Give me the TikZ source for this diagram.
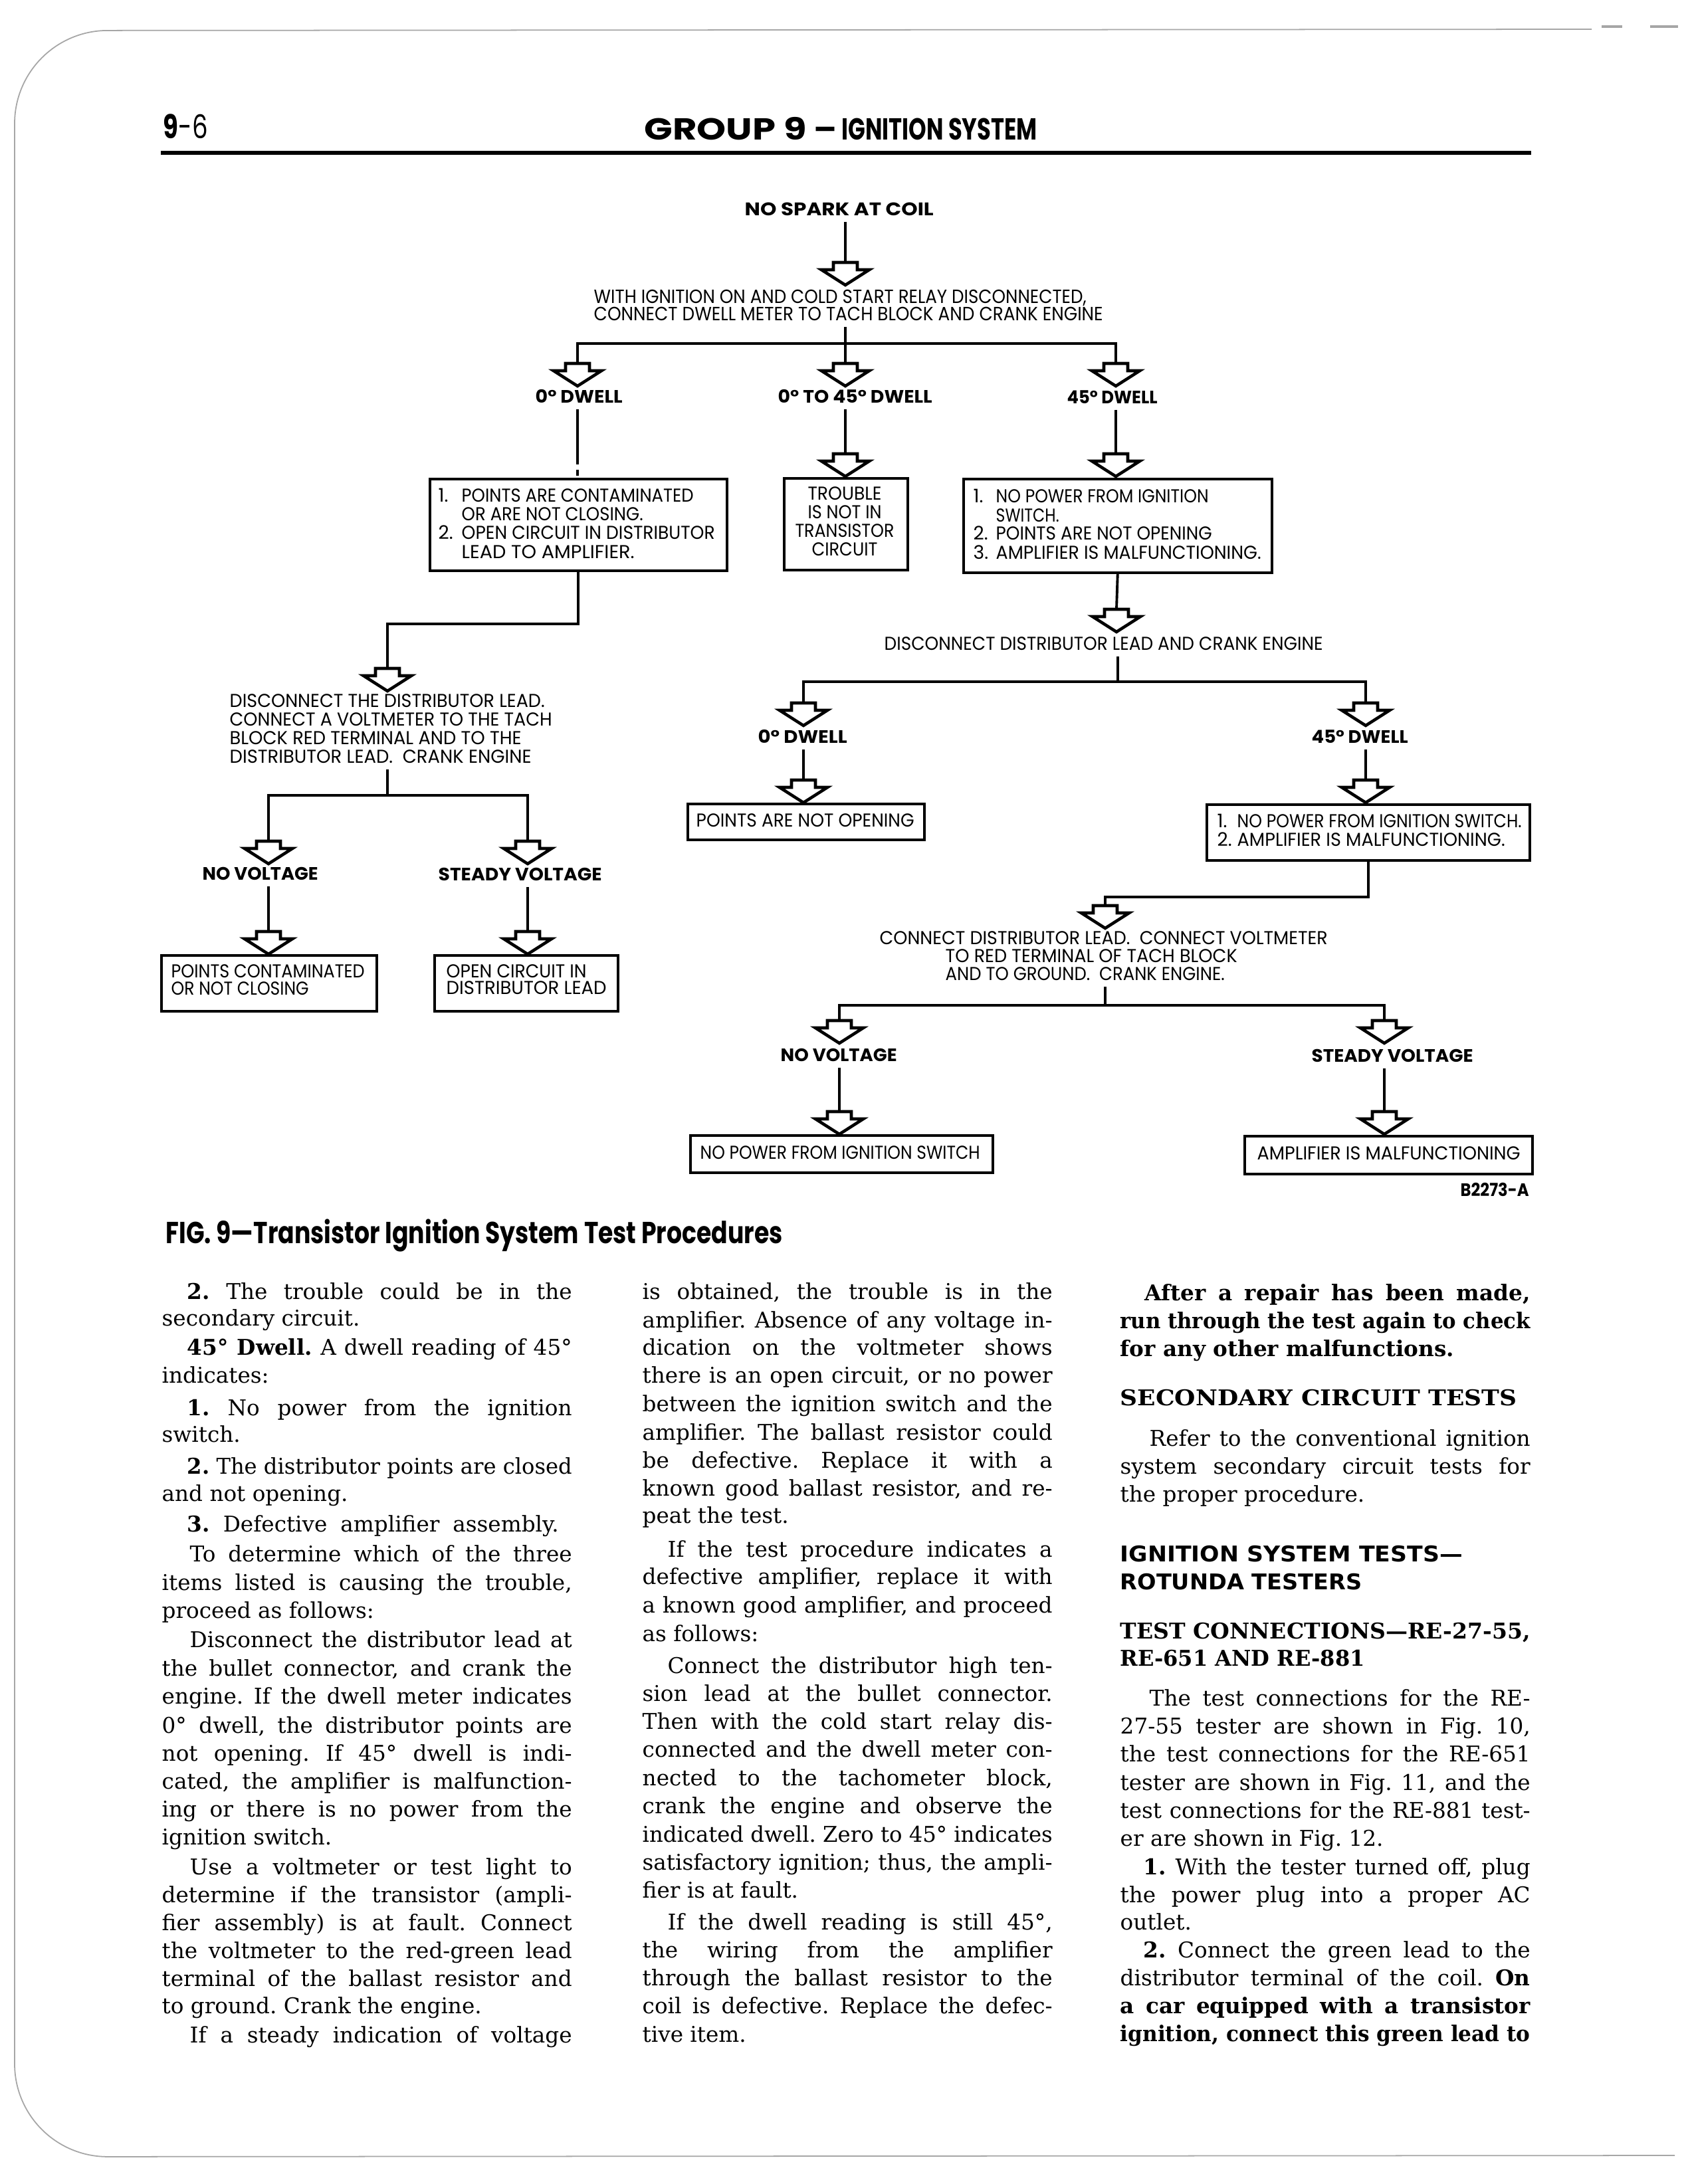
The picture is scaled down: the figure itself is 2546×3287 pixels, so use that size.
\documentclass[tikz,border=0pt]{standalone}
\usepackage{fontspec}
\setmainfont{DejaVu Serif}
\newfontfamily\futfam{Poppins}
\newfontfamily\hsfam{DejaVu Sans}
\usepackage{graphicx}
\newdimen\pxu \pxu=0.1mm
\newcommand\fw[2]{\resizebox{#1\pxu}{\height}{#2}}
\newsavebox\lbox
\newlength\colw \setlength\colw{61.7mm}
\newcommand\jl[2][\colw]{\sbox\lbox{#2}\ifdim\wd\lbox>#1\relax\resizebox{#1}{\height}{\usebox\lbox}\else\makebox[#1][s]{#2}\fi}
\newcommand\bodyf{\frenchspacing\fontsize{9.3pt}{11pt}\selectfont}
\newcommand\futr{\futfam\fontsize{8pt}{9pt}\selectfont}
\newcommand\futt{\futfam\fontsize{8.2pt}{9pt}\selectfont}
\newcommand\futb{\futfam\bfseries\fontsize{7.7pt}{9pt}\selectfont}
\begin{document}
\begin{tikzpicture}[x=0.1mm,y=-0.1mm,
  bodyln/.style={anchor=mid west, inner sep=0pt, font=\bodyf},
  fttxt/.style={anchor=base west, inner xsep=0pt, inner ysep=0.9mm, font=\futr},
  toptxt/.style={fttxt, font=\futt},
  labtxt/.style={fttxt, font=\futb},
  connln/.style={line width=1.1pt, line join=miter},
  boxnd/.style={draw, line width=1pt, inner sep=0pt, anchor=north west},
  arrowst/.style={line width=1.3pt, fill=white, line join=miter},
  pagedge/.style={draw=black!35, line width=0.5pt},
  harrow/.pic={\draw[arrowst] (-18,0) -- (18,0) -- (18,11) -- (36,11) -- (0,34) -- (-36,11) -- (-18,11) -- cycle;}
]
\useasboundingbox (0,0) rectangle (2546,3287);
\fill[white] (0,0) rectangle (2546,3287);
% page edge of the scan
\draw[pagedge, rounded corners=14mm] (2395,44) -- (22,46) -- (22,3246) -- (2520,3244);
\draw[pagedge, line width=1pt] (2410,40) -- (2441,40) (2483,40) -- (2525,40);

% header
\node[anchor=base west, inner sep=0pt, font=\futfam\fontsize{14pt}{16pt}\selectfont] (pg) at (245,208) {\fw{67}{{\bfseries 9}-6}};
\node[anchor=base west, inner sep=0pt, font=\futfam\bfseries\fontsize{13pt}{14pt}\selectfont] (hg1) at (969,210) {\fw{244}{GROUP 9}};
\node[anchor=base west, inner sep=0pt, font=\futfam\bfseries\fontsize{13pt}{14pt}\selectfont] (hg2) at (1224,210) {\fw{35}{–}};
\node[anchor=base west, inner sep=0pt, font=\futfam\bfseries\fontsize{13pt}{14pt}\selectfont] (hg3) at (1266,210) {\fw{294}{IGNITION SYSTEM}};
\draw[line width=1.7pt] (242,230) -- (2304,230);

% ---------- flowchart texts ----------
\node[fttxt, font=\futfam\bfseries\fontsize{7.8pt}{9pt}\selectfont] (n0) at (1120,324) {\fw{284}{NO SPARK AT COIL}};
\node[toptxt] (t1a) at (893,456) {\fw{741}{WITH IGNITION ON AND COLD START RELAY DISCONNECTED,}};
\node[toptxt] (t1b) at (893,482) {\fw{766}{CONNECT DWELL METER TO TACH BLOCK AND CRANK ENGINE}};
\node[labtxt] (l1) at (805,606) {\fw{131}{0° DWELL}};
\node[labtxt] (l2) at (1170,606) {\fw{232}{0° TO 45° DWELL}};
\node[labtxt] (l3) at (1605,607) {\fw{136}{45° DWELL}};

\node[boxnd, minimum width=44.7mm, minimum height=13.8mm] (b1) at (645,719) {};
\node[fttxt] (b1n1) at (659,755) {1.};
\node[fttxt] (b1a) at (694,755) {\fw{349}{POINTS ARE CONTAMINATED}};
\node[fttxt] (b1b) at (694,783) {\fw{273}{OR ARE NOT CLOSING.}};
\node[fttxt] (b1n2) at (659,811) {2.};
\node[fttxt] (b1c) at (694,811) {\fw{381}{OPEN CIRCUIT IN DISTRIBUTOR}};
\node[fttxt] (b1d) at (694,840) {\fw{260}{LEAD TO AMPLIFIER.}};

\node[boxnd, minimum width=18.6mm, minimum height=13.8mm] (b2) at (1178,718) {};
\node[fttxt, anchor=base] (b2a) at (1271,752) {\fw{111}{TROUBLE}};
\node[fttxt, anchor=base] (b2b) at (1271,780) {\fw{111}{IS NOT IN}};
\node[fttxt, anchor=base] (b2c) at (1271,808) {\fw{149}{TRANSISTOR}};
\node[fttxt, anchor=base] (b2d) at (1271,836) {\fw{99}{CIRCUIT}};

\node[boxnd, minimum width=46.4mm, minimum height=14.1mm] (b3) at (1448,719) {};
\node[fttxt] (b3n1) at (1464,756) {1.};
\node[fttxt] (b3a) at (1498,756) {\fw{320}{NO POWER FROM IGNITION}};
\node[fttxt] (b3b) at (1498,785) {\fw{95}{SWITCH.}};
\node[fttxt] (b3n2) at (1464,812) {2.};
\node[fttxt] (b3c) at (1498,812) {\fw{325}{POINTS ARE NOT OPENING}};
\node[fttxt] (b3n3) at (1464,841) {3.};
\node[fttxt] (b3d) at (1498,841) {\fw{399}{AMPLIFIER IS MALFUNCTIONING.}};

% left branch
\node[fttxt] (t2a) at (345,1064) {\fw{474}{DISCONNECT THE DISTRIBUTOR LEAD.}};
\node[fttxt] (t2b) at (345,1092) {\fw{485}{CONNECT A VOLTMETER TO THE TACH}};
\node[fttxt] (t2c) at (345,1120) {\fw{439}{BLOCK RED TERMINAL AND TO THE}};
\node[fttxt] (t2d) at (345,1148) {\fw{454}{DISTRIBUTOR LEAD.\ \ CRANK ENGINE}};
\node[labtxt] (l4) at (304,1324) {\fw{174}{NO VOLTAGE}};
\node[labtxt] (l5) at (659,1325) {\fw{246}{STEADY VOLTAGE}};
\node[boxnd, minimum width=32.4mm, minimum height=8.4mm] (b4) at (241,1436) {};
\node[fttxt] (b4a) at (257,1471) {\fw{291}{POINTS CONTAMINATED}};
\node[fttxt] (b4b) at (257,1497) {\fw{207}{OR NOT CLOSING}};
\node[boxnd, minimum width=27.6mm, minimum height=8.4mm] (b5) at (652,1436) {};
\node[fttxt] (b5a) at (671,1471) {\fw{211}{OPEN CIRCUIT IN}};
\node[fttxt] (b5b) at (671,1496) {\fw{241}{DISTRIBUTOR LEAD}};

% right branch
\node[fttxt] (t3) at (1330,978) {\fw{660}{DISCONNECT DISTRIBUTOR LEAD AND CRANK ENGINE}};
\node[labtxt] (l6) at (1140,1118) {\fw{134}{0° DWELL}};
\node[labtxt] (l7) at (1973,1118) {\fw{145}{45° DWELL}};
\node[boxnd, minimum width=35.6mm, minimum height=5.4mm] (b6) at (1033,1208) {};
\node[fttxt] (b6a) at (1047,1244) {\fw{328}{POINTS ARE NOT OPENING}};
\node[boxnd, minimum width=48.6mm, minimum height=8.4mm] (b7) at (1814,1209) {};
\node[fttxt] (b7n1) at (1831,1245) {1.};
\node[fttxt] (b7a) at (1861,1245) {\fw{428}{NO POWER FROM IGNITION SWITCH.}};
\node[fttxt] (b7n2) at (1831,1273) {2.};
\node[fttxt] (b7b) at (1861,1273) {\fw{403}{AMPLIFIER IS MALFUNCTIONING.}};
\node[fttxt] (t4a) at (1323,1421) {\fw{674}{CONNECT DISTRIBUTOR LEAD.\ \ CONNECT VOLTMETER}};
\node[fttxt] (t4b) at (1422,1448) {\fw{439}{TO RED TERMINAL OF TACH BLOCK}};
\node[fttxt] (t4c) at (1422,1475) {\fw{420}{AND TO GROUND.\ \ CRANK ENGINE.}};
\node[labtxt] (l8) at (1174,1597) {\fw{175}{NO VOLTAGE}};
\node[labtxt] (l9) at (1973,1598) {\fw{243}{STEADY VOLTAGE}};
\node[boxnd, minimum width=45.5mm, minimum height=5.6mm] (b8) at (1037,1707) {};
\node[fttxt] (b8a) at (1053,1744) {\fw{421}{NO POWER FROM IGNITION SWITCH}};
\node[boxnd, minimum width=43.3mm, minimum height=5.7mm] (b9) at (1871,1708) {};
\node[fttxt] (b9a) at (1891,1745) {\fw{396}{AMPLIFIER IS MALFUNCTIONING}};
\node[labtxt] (code) at (2197,1800) {\fw{103}{B2273-A}};

% ---------- connectors ----------
\coordinate (A0) at (1272,395);
\draw[connln] (A0 |- n0.south) -- (A0);
\coordinate (J1) at (1272,517);
\coordinate (JL1) at (869,517);
\coordinate (JR1) at (1679,517);
\coordinate (A1) at (869,547);
\coordinate (A2) at (1272,547);
\coordinate (A3) at (1679,547);
\draw[connln] (J1 |- t1b.south) -- (J1);
\draw[connln] (A1) -- (JL1) -- (JR1) -- (A3);
\draw[connln] (J1) -- (A2);
\coordinate (D1) at (869,690);
\draw[connln] (A1 |- l1.south) -- (D1);
\draw[connln, dash pattern=on 0.9mm off 0.8mm] (D1) -- (A1 |- b1.north);
\coordinate (A4) at (1272,683);
\draw[connln] (A4 |- l2.south) -- (A4);
\coordinate (A5) at (1679,683);
\draw[connln] (A5 |- l3.south) -- (A5);
\coordinate (J2) at (583,939);
\coordinate (A6) at (583,1006);
\draw[connln] (b1.south) |- (J2) -- (A6);
\coordinate (A7) at (1680,917);
\draw[connln] (b3.south) -- (A7);
\coordinate (J3) at (583,1197);
\coordinate (JL3) at (404,1197);
\coordinate (JR3) at (794,1197);
\coordinate (A8) at (404,1266);
\coordinate (A9) at (794,1266);
\draw[connln] (J3 |- t2d.south) -- (J3);
\draw[connln] (A8) -- (JL3) -- (JR3) -- (A9);
\coordinate (A10) at (404,1402);
\coordinate (A11) at (794,1402);
\draw[connln] (A10 |- l4.south) -- (A10);
\draw[connln] (A11 |- l5.south) -- (A11);
\coordinate (J4) at (1682,1026);
\coordinate (JL4) at (1209,1026);
\coordinate (JR4) at (2055,1026);
\coordinate (A12) at (1209,1058);
\coordinate (A13) at (2055,1058);
\draw[connln] (J4 |- t3.south) -- (J4);
\draw[connln] (A12) -- (JL4) -- (JR4) -- (A13);
\coordinate (A14) at (1209,1174);
\coordinate (A15) at (2055,1174);
\draw[connln] (A14 |- l6.south) -- (A14);
\draw[connln] (A15 |- l7.south) -- (A15);
\coordinate (J6) at (1663,1350);
\coordinate (A16) at (1663,1363);
\draw[connln] (b7.south) |- (J6) -- (A16);
\coordinate (J5) at (1663,1513);
\coordinate (JL5) at (1263,1513);
\coordinate (JR5) at (2083,1513);
\coordinate (A17) at (1263,1536);
\coordinate (A18) at (2083,1536);
\draw[connln] (J5 |- t4c.south) -- (J5);
\draw[connln] (A17) -- (JL5) -- (JR5) -- (A18);
\coordinate (A19) at (1263,1673);
\coordinate (A20) at (2083,1673);
\draw[connln] (A19 |- l8.south) -- (A19);
\draw[connln] (A20 |- l9.south) -- (A20);
\foreach \i in {0,...,20} \pic at (A\i) {harrow};

% caption
\node[anchor=base west, inner sep=0pt, font=\futfam\bfseries\fontsize{13pt}{15pt}\selectfont] (cap) at (249,1871) {\fw{928}{FIG. 9—Transistor Ignition System Test Procedures}};

% ---------- column 1 ----------
\node[bodyln] (c1a) at (281,1946) {\jl[57.9mm]{\textbf{2.} The trouble could be in the}};
\node[bodyln] (c1b) at (243,1986) {secondary circuit.};
\node[bodyln] (c1c) at (281,2030) {\jl[57.9mm]{\textbf{45° Dwell.} A dwell reading of 45°}};
\node[bodyln] (c1d) at (243,2072) {indicates:};
\node[bodyln] (c1e) at (281,2121) {\jl[57.9mm]{\textbf{1.} No power from the ignition}};
\node[bodyln] (c1f) at (243,2161) {switch.};
\node[bodyln] (c1g) at (281,2209) {\jl[57.9mm]{\textbf{2.} The distributor points are closed}};
\node[bodyln] (c1h) at (243,2250) {and not opening.};
\node[bodyln] (c1i) at (281,2296) {\jl[55.9mm]{\textbf{3.} Defective amplifier assembly.}};
\node[bodyln] (c1j) at (285,2341) {\jl[57.5mm]{To determine which of the three}};
\node[bodyln] (c1k) at (243,2384) {\jl{items listed is causing the trouble,}};
\node[bodyln] (c1l) at (243,2426) {proceed as follows:};
\node[bodyln] (c1m) at (285,2470) {\jl[57.5mm]{Disconnect the distributor lead at}};
\node[bodyln] (c1n) at (243,2513) {\jl{the bullet connector, and crank the}};
\node[bodyln] (c1o) at (243,2555) {\jl{engine. If the dwell meter indicates}};
\node[bodyln] (c1p) at (243,2599) {\jl{0° dwell, the distributor points are}};
\node[bodyln] (c1q) at (243,2641) {\jl{not opening. If 45° dwell is indi-}};
\node[bodyln] (c1r) at (243,2683) {\jl{cated, the amplifier is malfunction-}};
\node[bodyln] (c1s) at (243,2725) {\jl{ing or there is no power from the}};
\node[bodyln] (c1t) at (243,2767) {ignition switch.};
\node[bodyln] (c1u) at (285,2812) {\jl[57.5mm]{Use a voltmeter or test light to}};
\node[bodyln] (c1v) at (243,2854) {\jl{determine if the transistor (ampli-}};
\node[bodyln] (c1w) at (243,2896) {\jl{fier assembly) is at fault. Connect}};
\node[bodyln] (c1x) at (243,2938) {\jl{the voltmeter to the red-green lead}};
\node[bodyln] (c1y) at (243,2980) {\jl{terminal of the ballast resistor and}};
\node[bodyln] (c1z) at (243,3021) {to ground. Crank the engine.};
\node[bodyln] (c1aa) at (285,3065) {\jl[57.5mm]{If a steady indication of voltage}};

% ---------- column 2 ----------
\node[bodyln] (c2a) at (966,1946) {\jl{is obtained, the trouble is in the}};
\node[bodyln] (c2b) at (966,1989) {\jl{amplifier. Absence of any voltage in-}};
\node[bodyln] (c2c) at (966,2030) {\jl{dication on the voltmeter shows}};
\node[bodyln] (c2d) at (966,2072) {\jl{there is an open circuit, or no power}};
\node[bodyln] (c2e) at (966,2115) {\jl{between the ignition switch and the}};
\node[bodyln] (c2f) at (966,2158) {\jl{amplifier. The ballast resistor could}};
\node[bodyln] (c2g) at (966,2200) {\jl{be defective. Replace it with a}};
\node[bodyln] (c2h) at (966,2242) {\jl{known good ballast resistor, and re-}};
\node[bodyln] (c2i) at (966,2283) {peat the test.};
\node[bodyln] (c2j) at (1004,2334) {\jl[57.9mm]{If the test procedure indicates a}};
\node[bodyln] (c2k) at (966,2375) {\jl{defective amplifier, replace it with}};
\node[bodyln] (c2l) at (966,2418) {\jl{a known good amplifier, and proceed}};
\node[bodyln] (c2m) at (966,2461) {as follows:};
\node[bodyln] (c2n) at (1004,2509) {\jl[57.9mm]{Connect the distributor high ten-}};
\node[bodyln] (c2o) at (966,2551) {\jl{sion lead at the bullet connector.}};
\node[bodyln] (c2p) at (966,2593) {\jl{Then with the cold start relay dis-}};
\node[bodyln] (c2q) at (966,2635) {\jl{connected and the dwell meter con-}};
\node[bodyln] (c2r) at (966,2678) {\jl{nected to the tachometer block,}};
\node[bodyln] (c2s) at (966,2720) {\jl{crank the engine and observe the}};
\node[bodyln] (c2t) at (966,2763) {\jl{indicated dwell. Zero to 45° indicates}};
\node[bodyln] (c2u) at (966,2805) {\jl{satisfactory ignition; thus, the ampli-}};
\node[bodyln] (c2v) at (966,2847) {fier is at fault.};
\node[bodyln] (c2w) at (1004,2895) {\jl[57.9mm]{If the dwell reading is still 45°,}};
\node[bodyln] (c2x) at (966,2937) {\jl{the wiring from the amplifier}};
\node[bodyln] (c2y) at (966,2979) {\jl{through the ballast resistor to the}};
\node[bodyln] (c2z) at (966,3021) {\jl{coil is defective. Replace the defec-}};
\node[bodyln] (c2aa) at (966,3064) {tive item.};

% ---------- column 3 ----------
\node[bodyln] (c3a) at (1722,1948) {\jl[58.0mm]{\bfseries After a repair has been made,}};
\node[bodyln] (c3b) at (1685,1990) {\jl{\bfseries run through the test again to check}};
\node[bodyln] (c3c) at (1685,2032) {\bfseries for any other malfunctions.};
\node[bodyln] (c3d) at (1685,2106) {\fw{597}{\bfseries SECONDARY CIRCUIT TESTS}};
\node[bodyln] (c3e) at (1729,2167) {\jl[57.3mm]{Refer to the conventional ignition}};
\node[bodyln] (c3f) at (1685,2209) {\jl{system secondary circuit tests for}};
\node[bodyln] (c3g) at (1685,2251) {the proper procedure.};
\node[bodyln] (c3h) at (1685,2341) {\fw{515}{\hsfam\bfseries IGNITION SYSTEM TESTS—}};
\node[bodyln] (c3i) at (1685,2383) {\fw{364}{\hsfam\bfseries ROTUNDA TESTERS}};
\node[bodyln] (c3j) at (1685,2457) {\fw{617}{\bfseries TEST CONNECTIONS—RE-27-55,}};
\node[bodyln] (c3k) at (1685,2498) {\fw{368}{\bfseries RE-651 AND RE-881}};
\node[bodyln] (c3l) at (1729,2558) {\jl[57.3mm]{The test connections for the RE-}};
\node[bodyln] (c3m) at (1685,2600) {\jl{27-55 tester are shown in Fig. 10,}};
\node[bodyln] (c3n) at (1685,2642) {\jl{the test connections for the RE-651}};
\node[bodyln] (c3o) at (1685,2685) {\jl{tester are shown in Fig. 11, and the}};
\node[bodyln] (c3p) at (1685,2727) {\jl{test connections for the RE-881 test-}};
\node[bodyln] (c3q) at (1685,2769) {er are shown in Fig. 12.};
\node[bodyln] (c3r) at (1720,2812) {\jl[58.2mm]{\textbf{1.} With the tester turned off, plug}};
\node[bodyln] (c3s) at (1685,2854) {\jl{the power plug into a proper AC}};
\node[bodyln] (c3t) at (1685,2895) {outlet.};
\node[bodyln] (c3u) at (1720,2937) {\jl[58.2mm]{\textbf{2.} Connect the green lead to the}};
\node[bodyln] (c3v) at (1685,2979) {\jl{distributor terminal of the coil. \textbf{On}}};
\node[bodyln] (c3w) at (1685,3021) {\jl{\bfseries a car equipped with a transistor}};
\node[bodyln] (c3x) at (1685,3063) {\jl{\bfseries ignition, connect this green lead to}};
\end{tikzpicture}
\end{document}
